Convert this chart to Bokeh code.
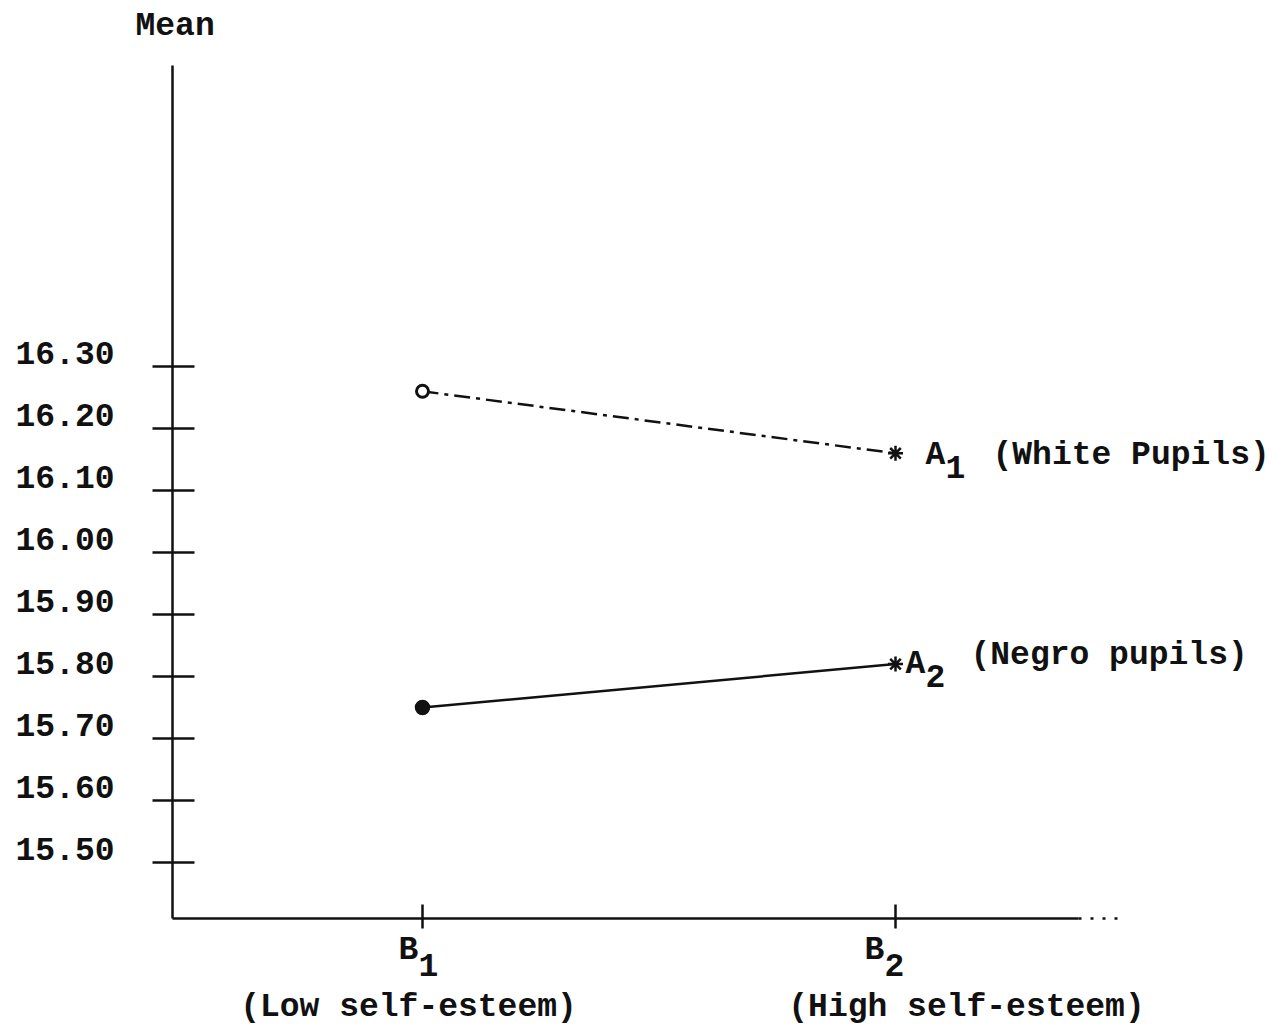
from bokeh.plotting import figure
from bokeh.models import Range1d, LinearAxis, FixedTicker, ColumnDataSource
from bokeh.core.properties import value
from bokeh.embed import file_html
from bokeh.resources import INLINE

# ---------------- data ----------------
categories = ["B1", "B2"]
cat_x = [1, 2]
cat_main = ["B", "B"]
cat_sub = ["1", "2"]
cat_desc = ["(Low self-esteem)", "(High self-esteem)"]

a1_means = [16.26, 16.16]   # A1 (White Pupils)
a2_means = [15.75, 15.82]   # A2 (Negro pupils)

series_main = ["A", "A"]
series_sub = ["1", "2"]
series_desc = ["(White Pupils)", "(Negro pupils)"]

mean_ticks = [16.30, 16.20, 16.10, 16.00, 15.90, 15.80, 15.70, 15.60, 15.50]
tick_labels = ["16.30", "16.20", "16.10", "16.00", "15.90", "15.80", "15.70", "15.60", "15.50"]
y_title = "Mean"

# ---------------- layout (pixel targets on the page) ----------------
W, H = 1276, 1030
ORG = 0
SX = (895 - 422) / (cat_x[1] - cat_x[0])          # px per category unit
SY = (862 - 366) / (mean_ticks[0] - mean_ticks[-1])  # px per mean unit
x_start = cat_x[0] - (422 - ORG) / SX
x_end = x_start + W / SX
y_end = mean_ticks[0] + (366 - ORG) / SY
y_start = y_end - H / SY

def px_to_x(px):
    return x_start + (px - ORG) / SX

def py_to_y(py):
    return y_end - (py - ORG) / SY

yaxis_x = px_to_x(172)
xaxis_y = py_to_y(918)
yaxis_top = py_to_y(65)
xaxis_solid_end = px_to_x(1078)
xaxis_dot_end = px_to_x(1122)

FONT = value("Liberation Mono")
FS = "33px"
INK = "#111111"

p = figure(width=W, height=H, x_range=Range1d(x_start, x_end), y_range=Range1d(y_start, y_end),
           x_axis_type=None, y_axis_type=None, min_border=0, toolbar_location=None,
           output_backend="svg", outline_line_color=None, background_fill_color="white",
           border_fill_color="white")

# axes
yax = LinearAxis(fixed_location=yaxis_x, bounds=(xaxis_y, yaxis_top),
                 ticker=FixedTicker(ticks=mean_ticks), major_tick_in=22, major_tick_out=20,
                 minor_tick_line_color=None, major_label_text_color=None,
                 axis_line_width=2.5, axis_line_color=INK,
                 major_tick_line_width=2.5, major_tick_line_color=INK)
p.add_layout(yax, "left")

xax = LinearAxis(fixed_location=xaxis_y, bounds=(yaxis_x, xaxis_solid_end),
                 ticker=FixedTicker(ticks=cat_x), major_tick_in=14, major_tick_out=10,
                 minor_tick_line_color=None, major_label_text_color=None,
                 axis_line_width=2.5, axis_line_color=INK,
                 major_tick_line_width=2.5, major_tick_line_color=INK)
p.add_layout(xax, "below")
p.segment(x0=[xaxis_solid_end], y0=[xaxis_y], x1=[xaxis_dot_end], y1=[xaxis_y],
          line_width=2.5, line_color=INK, line_dash="3 9")

# y tick labels and title
tsrc = ColumnDataSource(dict(x=[yaxis_x] * len(mean_ticks), y=mean_ticks, t=tick_labels))
p.text(x="x", y="y", text="t", source=tsrc, x_offset=-157, y_offset=-14,
       text_align="left", text_baseline="middle", text_font=FONT, text_font_size=FS,
       text_font_style="bold", text_color=INK)
p.text(x=[yaxis_x], y=[yaxis_top], text=[y_title], x_offset=-37, y_offset=-39,
       text_align="left", text_baseline="middle", text_font=FONT, text_font_size=FS,
       text_font_style="bold", text_color=INK)

# category labels
main_dx = [-24, -31]
desc_dx = [-14, 71]
csrc = ColumnDataSource(dict(x=cat_x, y=[xaxis_y] * 2, m=cat_main, s=cat_sub, d=cat_desc,
                             mdx=main_dx, sdx=[v + 20 for v in main_dx], ddx=desc_dx))
p.text(x="x", y="y", text="m", source=csrc, x_offset="mdx", y_offset=32,
       text_align="left", text_baseline="middle", text_font=FONT, text_font_size=FS,
       text_font_style="bold", text_color=INK)
p.text(x="x", y="y", text="s", source=csrc, x_offset="sdx", y_offset=46,
       text_align="left", text_baseline="middle", text_font=FONT, text_font_size=FS,
       text_font_style="bold", text_color=INK)
p.text(x="x", y="y", text="d", source=csrc, x_offset="ddx", y_offset=89,
       text_align="center", text_baseline="middle", text_font=FONT, text_font_size=FS,
       text_font_style="bold", text_color=INK)

# series lines
p.line(x=cat_x, y=a1_means, line_width=2.5, line_color=INK, line_dash="16 6 4 6")
p.line(x=cat_x, y=a2_means, line_width=2.5, line_color=INK)

# markers
p.scatter(x=[cat_x[0]], y=[a1_means[0]], marker="circle", size=12, line_width=3,
          line_color=INK, fill_color="white")
p.scatter(x=[cat_x[1]], y=[a1_means[1]], marker="asterisk", size=15, line_width=2.5,
          line_color=INK)
p.scatter(x=[cat_x[0]], y=[a2_means[0]], marker="circle", size=14, line_width=1.5,
          line_color=INK, fill_color=INK)
p.scatter(x=[cat_x[1]], y=[a2_means[1]], marker="asterisk", size=15, line_width=2.5,
          line_color=INK)

# series labels at the B2 end
ssrc = ColumnDataSource(dict(x=[cat_x[1]] * 2, y=[a1_means[1], a2_means[1]],
                             m=series_main, s=series_sub, d=series_desc,
                             mdx=[30, 10], sdx=[50, 30], ddx=[97, 75],
                             mdy=[2, 0], sdy=[14, 12], ddy=[2, -9]))
p.text(x="x", y="y", text="m", source=ssrc, x_offset="mdx", y_offset="mdy",
       text_align="left", text_baseline="middle", text_font=FONT, text_font_size=FS,
       text_font_style="bold", text_color=INK)
p.text(x="x", y="y", text="s", source=ssrc, x_offset="sdx", y_offset="sdy",
       text_align="left", text_baseline="middle", text_font=FONT, text_font_size=FS,
       text_font_style="bold", text_color=INK)
p.text(x="x", y="y", text="d", source=ssrc, x_offset="ddx", y_offset="ddy",
       text_align="left", text_baseline="middle", text_font=FONT, text_font_size=FS,
       text_font_style="bold", text_color=INK)

open("out.html", "w").write(file_html(p, INLINE))
